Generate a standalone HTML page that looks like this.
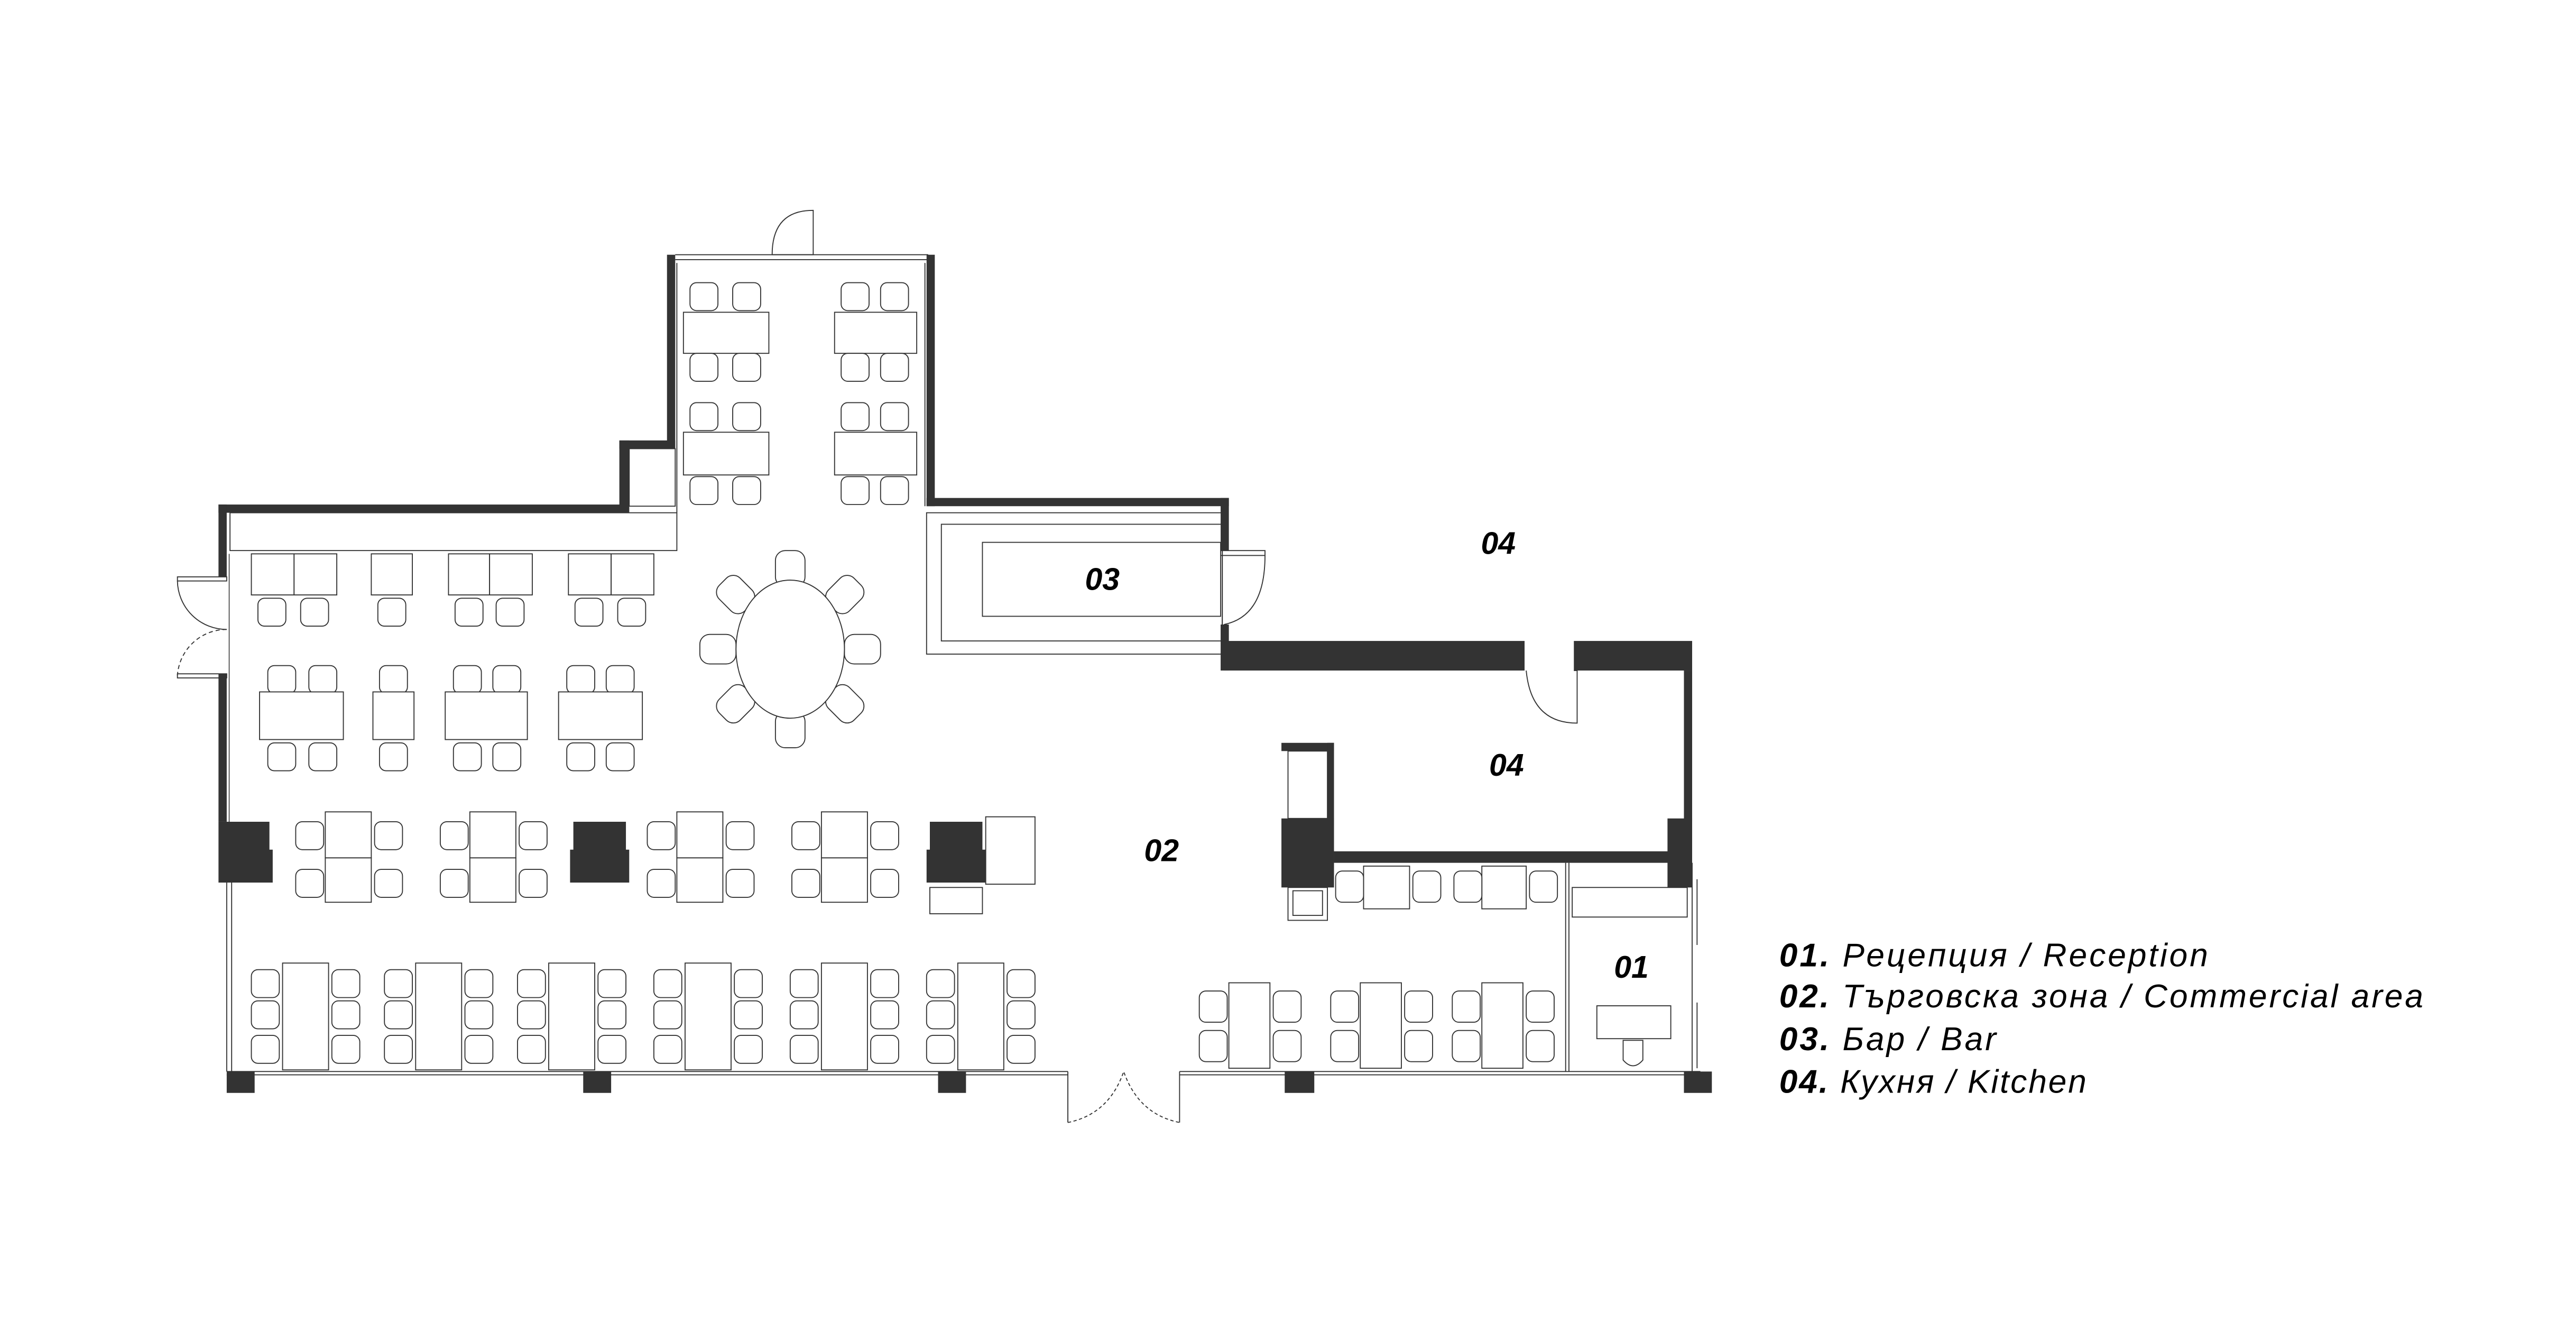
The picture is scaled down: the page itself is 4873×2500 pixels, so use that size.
<!DOCTYPE html>
<html><head><meta charset="utf-8"><style>
html,body{margin:0;padding:0;background:#fff}
svg{display:block}
</style></head><body>
<svg width="4873" height="2500" viewBox="0 0 1568 804.4" preserveAspectRatio="none" xmlns="http://www.w3.org/2000/svg">
<defs>
<rect id="c" width="17" height="17" rx="4" fill="#fff" stroke="#333" stroke-width="0.6"/>
<rect id="cv" width="17" height="19" rx="4" fill="#fff" stroke="#333" stroke-width="0.6"/>
</defs>
<g fill="none" stroke="#333" stroke-width="0.6">
<rect x="140" y="312" width="272" height="23"/>
<line x1="411" y1="155" x2="565" y2="155"/><line x1="411" y1="158" x2="565" y2="158"/>
<line x1="412" y1="160" x2="412" y2="312"/>
<line x1="563" y1="160" x2="563" y2="308"/>
<rect x="383" y="273" width="28" height="35"/>
<rect x="564" y="312" width="180" height="86"/>
<rect x="573" y="319" width="171" height="71"/>
<rect x="598" y="330" width="145" height="45"/>
<path d="M743 335 L770 335 L770 338 L743 338"/>
<path d="M770 338 Q770 375 745 380"/>
<path d="M470 155 L495 155 L495 128 Q470 128 470 155"/>
<path d="M958 408 L960 408 L960 440 Q932 440 929 408"/>
<!-- left door -->
<rect x="108" y="351" width="30" height="2.5"/>
<rect x="108" y="410" width="30" height="2.5"/>
<path d="M108 353.5 A30 30 0 0 0 138 383"/>
<path d="M138 383 A30 30 0 0 0 108 411" stroke-dasharray="2.5 1.8"/>
<line x1="138" y1="537" x2="138" y2="652"/><line x1="141" y1="537" x2="141" y2="652"/>
<line x1="139.5" y1="337" x2="139.5" y2="500" stroke-width="0.5"/>
<line x1="138" y1="652" x2="650" y2="652"/><line x1="138" y1="654" x2="650" y2="654"/>
<line x1="650" y1="652" x2="650" y2="683"/><line x1="718" y1="652" x2="718" y2="683"/>
<line x1="718" y1="652" x2="1035" y2="652"/><line x1="718" y1="654" x2="1035" y2="654"/>
<path d="M650 683 Q675 678 684 652 Q693 678 718 683" stroke-dasharray="2 1.5"/>
<line x1="953" y1="525" x2="953" y2="652"/><line x1="955" y1="525" x2="955" y2="652"/>
<line x1="1030" y1="525" x2="1030" y2="652"/>
<line x1="1033" y1="535" x2="1033" y2="575"/><line x1="1033" y1="610" x2="1033" y2="650"/>
<rect x="957" y="540" width="70" height="18"/>
<rect x="972" y="612" width="45" height="20"/>
<path d="M988 633 L1000 633 L1000 645 Q994 652 988 645 Z"/>
<rect x="766" y="397" width="89" height="10" fill="#fff"/>
<path d="M766 397 L855 407 M766 407 L855 397"/>
<rect x="784" y="457" width="24" height="41" fill="#fff"/>
<rect x="784" y="540" width="24" height="20"/><rect x="787" y="542" width="18" height="15"/>
<rect x="600" y="497" width="30" height="41"/>
<rect x="566" y="540" width="32" height="16"/>
</g>
<g fill="#333">
<rect x="133" y="307" width="250" height="5"/>
<rect x="377" y="268" width="6" height="44"/>
<rect x="377" y="268" width="34" height="5"/>
<rect x="406" y="155" width="5" height="118"/>
<rect x="564" y="155" width="5" height="153"/>
<rect x="564" y="303" width="184" height="5"/>
<rect x="743" y="303" width="5" height="32"/>
<rect x="743" y="380" width="5" height="28"/>
<rect x="745" y="390" width="183" height="18"/>
<rect x="958" y="390" width="72" height="18"/>
<rect x="1025" y="408" width="5" height="92"/>
<rect x="1015" y="498" width="15" height="42"/>
<rect x="812" y="518" width="205" height="7"/>
<rect x="780" y="452" width="32" height="5"/>
<rect x="808" y="452" width="4" height="50"/>
<rect x="780" y="498" width="32" height="42"/>
<rect x="133" y="307" width="5" height="44"/>
<rect x="133" y="410" width="5" height="90"/>
<path d="M133 500 H164 V517 H166 V537 H133 Z"/>
<path d="M349 500 H381 V517 H383 V537 H347 V517 H349 Z"/>
<path d="M566 500 H598 V517 H600 V537 H564 V517 H566 Z"/>
<rect x="138" y="652" width="17" height="13"/>
<rect x="355" y="652" width="17" height="13"/>
<rect x="571" y="652" width="17" height="13"/>
<rect x="782" y="652" width="18" height="13"/>
<rect x="1025" y="652" width="17" height="13"/>
</g>
<g fill="#fff" stroke="#333" stroke-width="0.6">
<use href="#c" x="420" y="172"/><use href="#c" x="446" y="172"/><use href="#c" x="512" y="172"/><use href="#c" x="536" y="172"/>
<rect x="416" y="190" width="52" height="25"/><rect x="508" y="190" width="50" height="25"/>
<use href="#c" x="420" y="215"/><use href="#c" x="446" y="215"/><use href="#c" x="512" y="215"/><use href="#c" x="536" y="215"/>
<use href="#c" x="420" y="245"/><use href="#c" x="446" y="245"/><use href="#c" x="512" y="245"/><use href="#c" x="536" y="245"/>
<rect x="416" y="263" width="52" height="26"/><rect x="508" y="263" width="50" height="26"/>
<use href="#c" x="420" y="290"/><use href="#c" x="446" y="290"/><use href="#c" x="512" y="290"/><use href="#c" x="536" y="290"/>
<rect x="153" y="337" width="26" height="25"/><rect x="179" y="337" width="26" height="25"/>
<rect x="226" y="337" width="25" height="25"/>
<rect x="273" y="337" width="25" height="25"/><rect x="298" y="337" width="26" height="25"/>
<rect x="346" y="337" width="26" height="25"/><rect x="372" y="337" width="26" height="25"/>
<use href="#c" x="157" y="364"/><use href="#c" x="183" y="364"/><use href="#c" x="230" y="364"/><use href="#c" x="277" y="364"/><use href="#c" x="302" y="364"/><use href="#c" x="350" y="364"/><use href="#c" x="376" y="364"/>
<use href="#c" x="163" y="405"/><use href="#c" x="188" y="405"/><use href="#c" x="231" y="405"/><use href="#c" x="276" y="405"/><use href="#c" x="300" y="405"/><use href="#c" x="345" y="405"/><use href="#c" x="369" y="405"/>
<rect x="158" y="421" width="51" height="29"/><rect x="227" y="421" width="25" height="29"/><rect x="271" y="421" width="50" height="29"/><rect x="340" y="421" width="51" height="29"/>
<use href="#c" x="163" y="452"/><use href="#c" x="188" y="452"/><use href="#c" x="231" y="452"/><use href="#c" x="276" y="452"/><use href="#c" x="300" y="452"/><use href="#c" x="345" y="452"/><use href="#c" x="369" y="452"/>
<g transform="translate(481 395)">
<rect x="-9" y="-60" width="18" height="22" rx="6"/>
<rect x="-9" y="-58" width="18" height="22" rx="6" transform="rotate(45)"/>
<rect x="-9" y="-55" width="18" height="22" rx="6" transform="rotate(90)"/>
<rect x="-9" y="-58" width="18" height="22" rx="6" transform="rotate(135)"/>
<rect x="-9" y="-60" width="18" height="22" rx="6" transform="rotate(180)"/>
<rect x="-9" y="-58" width="18" height="22" rx="6" transform="rotate(225)"/>
<rect x="-9" y="-55" width="18" height="22" rx="6" transform="rotate(270)"/>
<rect x="-9" y="-58" width="18" height="22" rx="6" transform="rotate(315)"/>
<ellipse cx="0" cy="0" rx="33" ry="42"/>
</g>
<rect x="198" y="494" width="28" height="28"/><rect x="198" y="522" width="28" height="27"/>
<use href="#c" x="180" y="500"/><use href="#c" x="180" y="529"/><use href="#c" x="228" y="500"/><use href="#c" x="228" y="529"/>
<rect x="286" y="494" width="28" height="28"/><rect x="286" y="522" width="28" height="27"/>
<use href="#c" x="268" y="500"/><use href="#c" x="268" y="529"/><use href="#c" x="316" y="500"/><use href="#c" x="316" y="529"/>
<rect x="412" y="494" width="28" height="28"/><rect x="412" y="522" width="28" height="27"/>
<use href="#c" x="394" y="500"/><use href="#c" x="394" y="529"/><use href="#c" x="442" y="500"/><use href="#c" x="442" y="529"/>
<rect x="500" y="494" width="28" height="28"/><rect x="500" y="522" width="28" height="27"/>
<use href="#c" x="482" y="500"/><use href="#c" x="482" y="529"/><use href="#c" x="530" y="500"/><use href="#c" x="530" y="529"/>
<rect x="172" y="586" width="28" height="65"/><use href="#c" x="153" y="590"/><use href="#c" x="153" y="609"/><use href="#c" x="153" y="630"/><use href="#c" x="202" y="590"/><use href="#c" x="202" y="609"/><use href="#c" x="202" y="630"/>
<rect x="253" y="586" width="28" height="65"/><use href="#c" x="234" y="590"/><use href="#c" x="234" y="609"/><use href="#c" x="234" y="630"/><use href="#c" x="283" y="590"/><use href="#c" x="283" y="609"/><use href="#c" x="283" y="630"/>
<rect x="334" y="586" width="28" height="65"/><use href="#c" x="315" y="590"/><use href="#c" x="315" y="609"/><use href="#c" x="315" y="630"/><use href="#c" x="364" y="590"/><use href="#c" x="364" y="609"/><use href="#c" x="364" y="630"/>
<rect x="417" y="586" width="28" height="65"/><use href="#c" x="398" y="590"/><use href="#c" x="398" y="609"/><use href="#c" x="398" y="630"/><use href="#c" x="447" y="590"/><use href="#c" x="447" y="609"/><use href="#c" x="447" y="630"/>
<rect x="500" y="586" width="28" height="65"/><use href="#c" x="481" y="590"/><use href="#c" x="481" y="609"/><use href="#c" x="481" y="630"/><use href="#c" x="530" y="590"/><use href="#c" x="530" y="609"/><use href="#c" x="530" y="630"/>
<rect x="583" y="586" width="28" height="65"/><use href="#c" x="564" y="590"/><use href="#c" x="564" y="609"/><use href="#c" x="564" y="630"/><use href="#c" x="613" y="590"/><use href="#c" x="613" y="609"/><use href="#c" x="613" y="630"/>
<rect x="748" y="598" width="25" height="52"/><use href="#cv" x="730" y="603"/><use href="#cv" x="730" y="627"/><use href="#cv" x="775" y="603"/><use href="#cv" x="775" y="627"/>
<rect x="828" y="598" width="25" height="52"/><use href="#cv" x="810" y="603"/><use href="#cv" x="810" y="627"/><use href="#cv" x="855" y="603"/><use href="#cv" x="855" y="627"/>
<rect x="902" y="598" width="25" height="52"/><use href="#cv" x="884" y="603"/><use href="#cv" x="884" y="627"/><use href="#cv" x="929" y="603"/><use href="#cv" x="929" y="627"/>
<rect x="830" y="527" width="28" height="26"/><use href="#cv" x="813" y="530"/><use href="#cv" x="860" y="530"/>
<rect x="902" y="527" width="27" height="26"/><use href="#cv" x="885" y="530"/><use href="#cv" x="931" y="530"/>
</g>
<g font-family="'Liberation Sans', sans-serif" font-weight="bold" font-style="italic" font-size="19" fill="#000" text-anchor="middle">
<text x="671" y="359">03</text>
<text x="912" y="337">04</text>
<text x="917" y="472">04</text>
<text x="707" y="524">02</text>
<text x="993" y="595">01</text>
</g>
<g font-family="'Liberation Sans', 'DejaVu Sans', sans-serif" font-style="italic" font-size="20" fill="#000">
<text x="1083" y="588" textLength="261" lengthAdjust="spacing"><tspan font-weight="bold">01.</tspan> Рецепция / Reception</text>
<text x="1083" y="613" textLength="392" lengthAdjust="spacing"><tspan font-weight="bold">02.</tspan> Търговска зона / Commercial area</text>
<text x="1083" y="639" textLength="132" lengthAdjust="spacing"><tspan font-weight="bold">03.</tspan> Бар / Bar</text>
<text x="1083" y="665" textLength="187" lengthAdjust="spacing"><tspan font-weight="bold">04.</tspan> Кухня / Kitchen</text>
</g>
</svg>
</body></html>
